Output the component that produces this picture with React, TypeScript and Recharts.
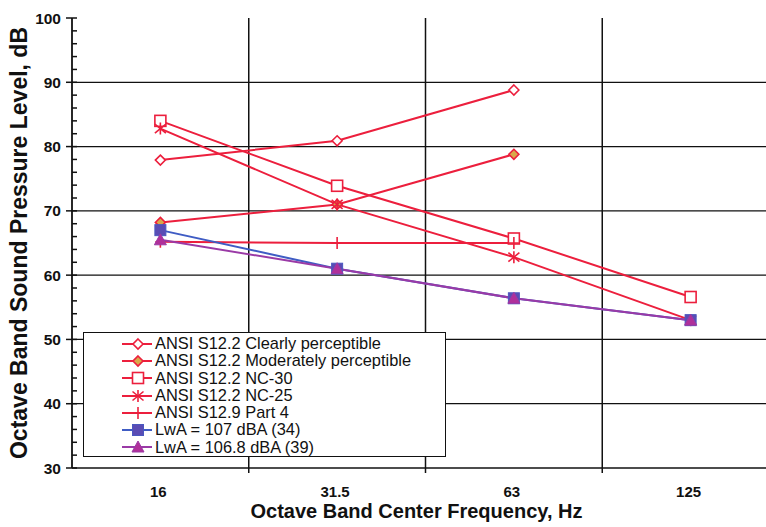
import React from 'react';
import { LineChart, Line, XAxis, YAxis, ReferenceLine, Legend } from 'recharts';

const categories = ['16', '31.5', '63', '125'];
const clearly = [77.9, 80.9, 88.8, null];
const moderately = [68.2, 71, 78.8, null];
const nc30 = [84, 73.9, 65.7, 56.6];
const nc25 = [82.8, 71, 62.8, 53];
const part4 = [65.2, 65, 65, null];
const lwa107 = [67, 61, 56.4, 53];
const lwa1068 = [65.5, 61, 56.4, 53];

const yMajor = [30, 40, 50, 60, 70, 80, 90, 100];
const yMinorStep = 2;
const gridY = [40, 50, 60, 70, 80, 90];
const gridX = [1, 2, 3];

const FONT = '"Liberation Sans", Arial, Helvetica, sans-serif';
const RED = '#ec1f3d';
const BLUE = '#3f5cc4';
const PURPLE = '#9a3aa6';

type SeriesDef = { key: string; name: string; values: (number | null)[]; color: string; marker: string };

const series: SeriesDef[] = [
  { key: 'clearly', name: 'ANSI S12.2 Clearly perceptible', values: clearly, color: RED, marker: 'diamondOpen' },
  { key: 'moderately', name: 'ANSI S12.2 Moderately perceptible', values: moderately, color: RED, marker: 'diamondTan' },
  { key: 'nc30', name: 'ANSI S12.2 NC-30', values: nc30, color: RED, marker: 'squareOpen' },
  { key: 'nc25', name: 'ANSI S12.2 NC-25', values: nc25, color: RED, marker: 'asterisk' },
  { key: 'part4', name: 'ANSI S12.9 Part 4', values: part4, color: RED, marker: 'plus' },
  { key: 'lwa107', name: 'LwA = 107 dBA (34)', values: lwa107, color: BLUE, marker: 'squareFilled' },
  { key: 'lwa1068', name: 'LwA = 106.8 dBA (39)', values: lwa1068, color: PURPLE, marker: 'triangle' },
];

const data = categories.map((c, i) => {
  const row: Record<string, any> = { x: i + 0.5, label: c };
  series.forEach((s) => {
    row[s.key] = s.values[i];
  });
  return row;
});

const yTicks: number[] = [];
for (let v = yMajor[0]; v <= yMajor[yMajor.length - 1]; v += yMinorStep) yTicks.push(v);
const xTicks: number[] = [];
categories.forEach((_, i) => {
  xTicks.push(i + 0.5);
  if (i + 1 < categories.length) xTicks.push(i + 1);
});

function Marker({ kind, cx, cy, color }: { kind: string; cx: number; cy: number; color: string }) {
  if (cx == null || cy == null || isNaN(cx) || isNaN(cy)) return null;
  switch (kind) {
    case 'diamondOpen':
      return <polygon points={`${cx},${cy - 5} ${cx + 5},${cy} ${cx},${cy + 5} ${cx - 5},${cy}`} fill="#fff" stroke={color} strokeWidth={1.6} />;
    case 'diamondTan':
      return <polygon points={`${cx},${cy - 5} ${cx + 5},${cy} ${cx},${cy + 5} ${cx - 5},${cy}`} fill="#d9a84a" stroke={color} strokeWidth={1.6} />;
    case 'squareOpen':
      return <rect x={cx - 5.5} y={cy - 5.5} width={11} height={11} fill="#fff" stroke={color} strokeWidth={1.6} />;
    case 'asterisk':
      return (
        <g stroke={color} strokeWidth={1.6}>
          <line x1={cx} y1={cy - 6} x2={cx} y2={cy + 6} />
          <line x1={cx - 5.5} y1={cy - 4.5} x2={cx + 5.5} y2={cy + 4.5} />
          <line x1={cx - 5.5} y1={cy + 4.5} x2={cx + 5.5} y2={cy - 4.5} />
        </g>
      );
    case 'plus':
      return (
        <g stroke={color} strokeWidth={1.6}>
          <line x1={cx} y1={cy - 6} x2={cx} y2={cy + 6} />
          <line x1={cx - 5} y1={cy} x2={cx + 5} y2={cy} />
        </g>
      );
    case 'squareFilled':
      return <rect x={cx - 5.5} y={cy - 5.5} width={11} height={11} fill="#5a4cb4" stroke="#4a58c0" strokeWidth={1} />;
    case 'triangle':
      return <polygon points={`${cx},${cy - 6} ${cx + 6},${cy + 5} ${cx - 6},${cy + 5}`} fill="#b0309a" stroke={PURPLE} strokeWidth={1} />;
    default:
      return null;
  }
}

const YTick = (props: any) => {
  const { x, y, payload } = props;
  const v = payload.value;
  const major = v % 10 === 0;
  return (
    <g>
      <line x1={major ? x - 6 : x} y1={y} x2={x + 5} y2={y} stroke="#111" strokeWidth={1.5} />
      {major && (
        <text x={x - 11} y={y} dy="0.36em" textAnchor="end" fontFamily={FONT} fontWeight="bold" fontSize={15.5} fill="#111">
          {v}
        </text>
      )}
    </g>
  );
};

const XTick = (props: any) => {
  const { x, y, payload } = props;
  const v = payload.value;
  if (Number.isInteger(v)) {
    return <line x1={x} y1={y} x2={x} y2={y + 5} stroke="#111" strokeWidth={1.5} />;
  }
  const label = categories[Math.floor(v)];
  return (
    <text x={x - 2} y={y + 29} textAnchor="middle" fontFamily={FONT} fontWeight="bold" fontSize={15} fill="#111">
      {label}
    </text>
  );
};

const YTitle = (props: any) => {
  const vb = props.viewBox || { x: 0, y: 18, width: 72, height: 450 };
  const cx = vb.x + 19;
  const cy = vb.y + vb.height / 2;
  return (
    <text x={cx} y={cy} transform={`rotate(-90 ${cx} ${cy})`} dy="0.36em" textAnchor="middle" fontFamily={FONT} fontWeight="bold" fontSize={23} fill="#111">
      Octave Band Sound Pressure Level, dB
    </text>
  );
};

const XTitle = (props: any) => {
  const vb = props.viewBox || { x: 72, y: 468, width: 707, height: 59 };
  return (
    <text x={vb.x + 344.5} y={vb.y + 50} textAnchor="middle" fontFamily={FONT} fontWeight="bold" fontSize={20} fill="#111">
      Octave Band Center Frequency, Hz
    </text>
  );
};

const LegendBox = () => (
  <div
    style={{
      border: '1.5px solid #111',
      background: '#fff',
      width: 363,
      height: 125,
      boxSizing: 'border-box',
      paddingTop: 2,
      fontFamily: FONT,
      fontSize: 16.4,
      color: '#111',
    }}
  >
    {series.map((s) => (
      <div key={s.key} style={{ display: 'flex', alignItems: 'center', height: 17.3, lineHeight: '17.3px' }}>
        <svg width={71} height={16} style={{ flex: 'none' }}>
          <line x1={38} y1={8} x2={68} y2={8} stroke={s.color} strokeWidth={2} />
          <Marker kind={s.marker} cx={54} cy={8} color={s.color} />
        </svg>
        <span style={{ whiteSpace: 'nowrap' }}>{s.name}</span>
      </div>
    ))}
  </div>
);

export default function App() {
  return (
    <div style={{ position: 'fixed', left: 0, top: 0, width: 766, height: 527, overflow: 'hidden', background: '#fff' }}>
      <LineChart width={779} height={527} data={data} margin={{ top: 18, right: 0, left: 0, bottom: 0 }}>
        <XAxis
          dataKey="x"
          type="number"
          domain={[0, categories.length]}
          ticks={xTicks}
          interval={0}
          tick={<XTick />}
          tickLine={false}
          tickSize={0}
          tickMargin={0}
          axisLine={{ stroke: '#111', strokeWidth: 1.5 }}
          height={59}
          label={<XTitle />}
        />
        <YAxis
          type="number"
          domain={[yMajor[0], yMajor[yMajor.length - 1]]}
          ticks={yTicks}
          interval={0}
          tick={<YTick />}
          tickLine={false}
          tickSize={0}
          tickMargin={0}
          axisLine={{ stroke: '#111', strokeWidth: 1.8 }}
          width={72}
          label={<YTitle />}
          allowDataOverflow
        />
        {gridY.map((v) => (
          <ReferenceLine key={'gy' + v} y={v} stroke="#111" strokeWidth={1.2} />
        ))}
        {gridX.map((v) => (
          <ReferenceLine key={'gx' + v} x={v} stroke="#111" strokeWidth={1.5} />
        ))}
        {series.map((s) => (
          <Line
            key={s.key}
            dataKey={s.key}
            name={s.name}
            stroke={s.color}
            strokeWidth={2}
            isAnimationActive={false}
            dot={(p: any) => (
              <g key={s.key + p.index}>
                <Marker kind={s.marker} cx={p.cx} cy={p.cy} color={s.color} />
              </g>
            )}
            activeDot={false}
          />
        ))}
        <Legend
          layout="vertical"
          align="center"
          verticalAlign="middle"
          content={<LegendBox />}
          wrapperStyle={{ position: 'absolute', left: 83, top: 332, width: 363, height: 125 }}
        />
      </LineChart>
    </div>
  );
}
